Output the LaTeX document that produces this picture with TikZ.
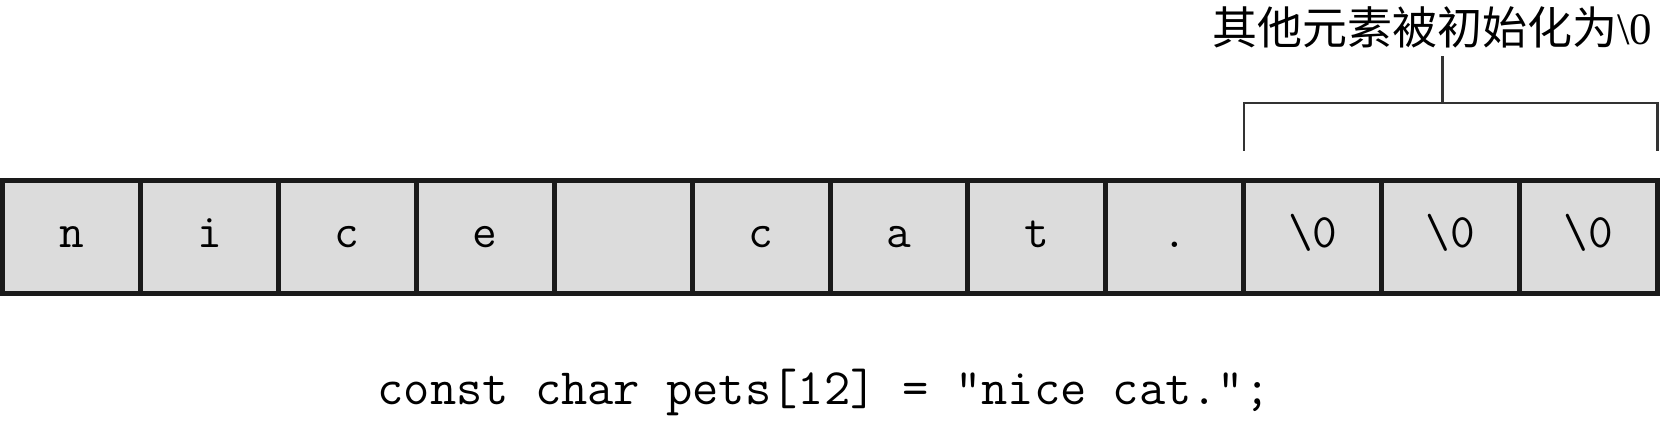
\documentclass[tikz,border=0pt]{standalone}
\usepackage{fontspec}
\setmainfont{Liberation Serif}
\newfontfamily\cjk{Noto Sans CJK SC}
\usetikzlibrary{calc}
\definecolor{cellfill}{HTML}{DCDCDC}
\definecolor{edge}{HTML}{1A1A1A}
\tikzset{
  cell/.style={draw=edge, fill=cellfill, line width=5pt, minimum width=137.92pt,
    minimum height=113pt, inner sep=0pt, outer sep=0pt, anchor=center,
    font=\fontsize{48}{48}\selectfont\ttfamily},
  brace/.style={draw=black!80, line width=2.2pt},
  lbl/.style={font=\fontsize{45}{45}\selectfont, inner sep=0pt},
  code/.style={font=\fontsize{51}{51}\selectfont\ttfamily, inner sep=0pt}
}
\begin{document}
\begin{tikzpicture}[x=1pt,y=1pt]
\useasboundingbox (0,0) rectangle (1660,428);
\foreach \t [count=\i] in {n,i,c,e,{},c,a,t,.,\textbackslash0,\textbackslash0,\textbackslash0}{
  \node[cell] (c\i) at ({2.5+(\i-0.5)*137.92},190.5) {\strut\t};
}
\coordinate (bl) at ($(c10.north west)+(0,30)$);
\coordinate (br) at ($(c12.north east)+(0,30)$);
\coordinate (blt) at ($(c10.north west)+(0,78)$);
\coordinate (brt) at ($(c12.north east)+(0,78)$);
\coordinate (stem) at ($(blt)!0.48!(brt)$);
\node[lbl] (label) at (1432,401) {\cjk 其他元素被初始化为\rmfamily\textbackslash0};
\coordinate (stemtop) at ($(stem)+(0,47)$);
\draw[brace] (bl) -- (blt) -- (brt) -- (br);
\draw[brace] (stem) -- (stemtop);
\node[code] (decl) at (824,36) {const char pets[12] = "nice cat.";};
\end{tikzpicture}
\end{document}
